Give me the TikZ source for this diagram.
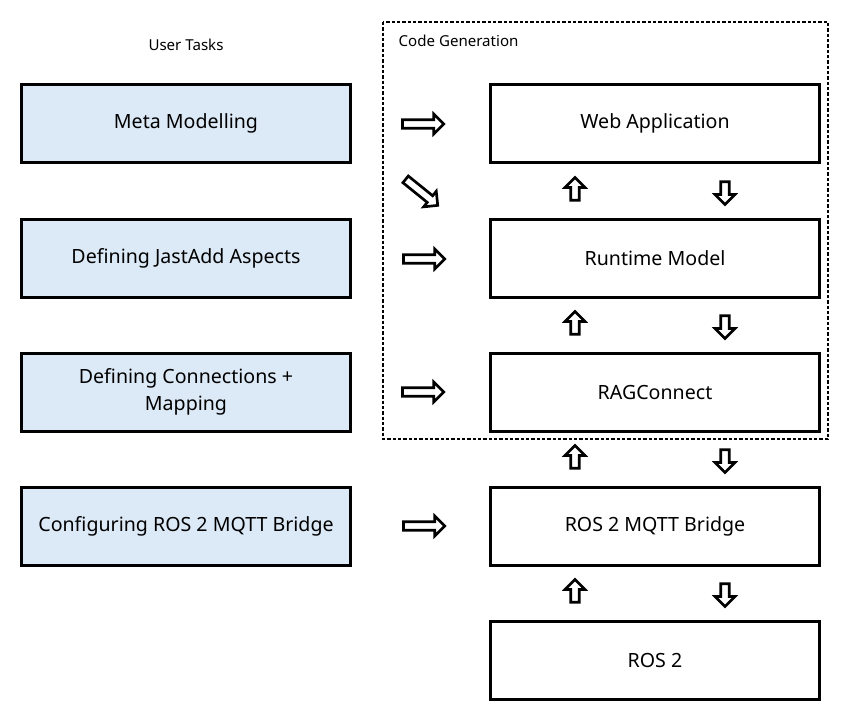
\documentclass[tikz,border=0pt]{standalone}
\usepackage{fontspec}
\setmainfont{Noto Sans}
\usetikzlibrary{shapes.arrows}
\definecolor{taskblue}{RGB}{220,233,246}

\begin{document}
\begin{tikzpicture}[x=0.75pt,y=-0.75pt,line join=miter,font=\fontsize{14.7}{20}\selectfont,
    box/.style={draw,line width=2.25pt,minimum width=247pt,minimum height=58.5pt,align=center,inner sep=0pt},
    task/.style={box,fill=taskblue},
    gen/.style={box,fill=white},
    blk/.style={single arrow,draw,line width=2pt,fill=white,inner sep=2pt,minimum width=15pt,
        single arrow head extend=4pt,single arrow head indent=0pt},
    blkh/.style={blk,minimum height=31pt},
    blkv/.style={blk,minimum height=17pt},
    tag/.style={font=\fontsize{11.3}{13}\selectfont}]
    \useasboundingbox (0,0) rectangle (846,722);
    % code generation frame
    \draw[line width=1pt,dash pattern=on 2.5pt off 1.5pt] (383,22) rectangle (828,439);
    \node[tag] (usertasks) at (186,45) {User Tasks};
    \node[tag,anchor=west] (codegen) at (394,41) {Code Generation};
    % user tasks
    \node[task] (meta) at (186,123.5) {Meta Modelling};
    \node[task] (aspects) at (186,258) {Defining JastAdd Aspects};
    \node[task] (conn) at (186,392) {Defining Connections +\\Mapping};
    \node[task] (bridgecfg) at (186,526) {Configuring ROS 2 MQTT Bridge};
    % generated parts
    \node[gen] (webapp) at (655,123.5) {Web Application};
    \node[gen] (runtime) at (655,258) {Runtime Model};
    \node[gen] (ragconnect) at (655,392) {RAGConnect};
    \node[gen] (bridge) at (655,526) {ROS 2 MQTT Bridge};
    \node[gen] (ros) at (655,660) {ROS 2};
    % block arrows
    \node[blkh] (a1) at (421,124) {};
    \node[blkh,rotate=-39] (a2) at (420,191) {};
    \node[blkh] (a3) at (422,259) {};
    \node[blkh] (a4) at (421,392) {};
    \node[blkh] (a5) at (422,526) {};
    \foreach \y [count=\i] in {191,325,459,593} {
        \node[blkv,rotate=90] (up\i) at (575,\y) {};
        \node[blkv,rotate=-90] (down\i) at (725,\y) {};
    }
\end{tikzpicture}
\end{document}
